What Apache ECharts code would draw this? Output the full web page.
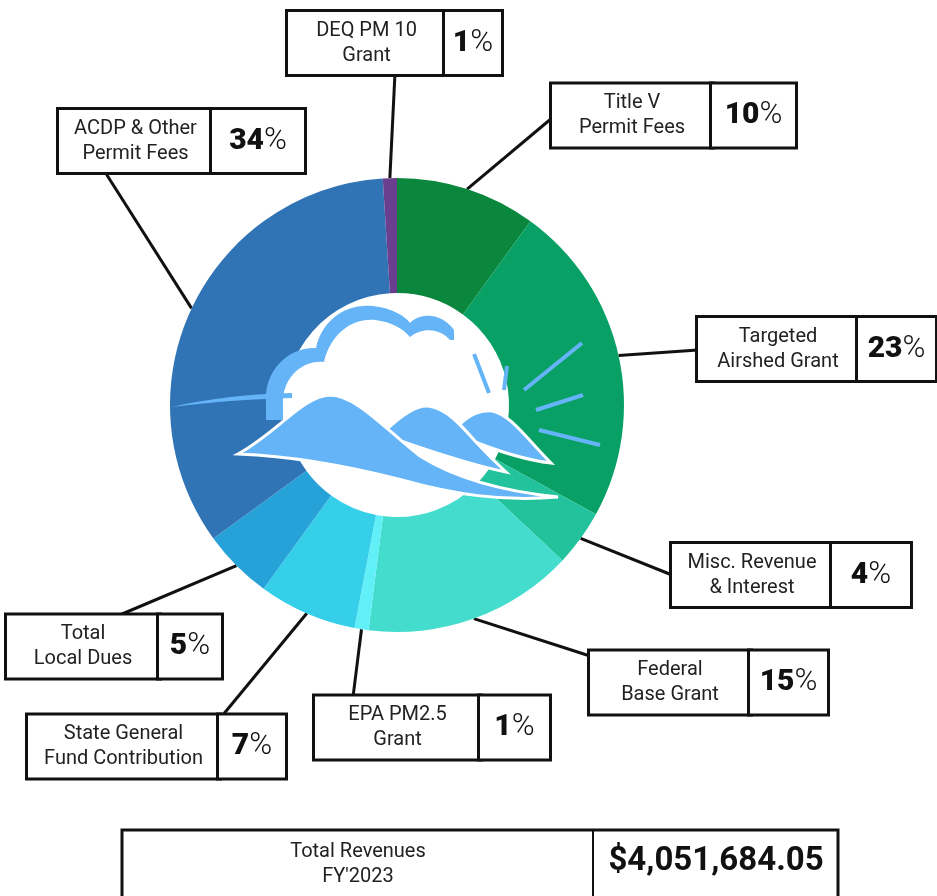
<!DOCTYPE html>
<html>
<head>
<meta charset="utf-8">
<script src="https://cdn.jsdelivr.net/npm/echarts@6/dist/echarts.min.js"></script>
<style>
  html, body { margin: 0; padding: 0; background: #fff; }
  #main { width: 937px; height: 896px; }
</style>
</head>
<body>
<div id="main"></div>
<script>
// revenue sources, clockwise from 12 o'clock
const categories = [
  'Title V\nPermit Fees',
  'Targeted\nAirshed Grant',
  'Misc. Revenue\n& Interest',
  'Federal\nBase Grant',
  'EPA PM2.5\nGrant',
  'State General\nFund Contribution',
  'Total\nLocal Dues',
  'ACDP & Other\nPermit Fees',
  'DEQ PM 10\nGrant'
];
const shares = [10, 23, 4, 15, 1, 7, 5, 34, 1];
const colors = ['#0a873c', '#08a064', '#22c29c', '#43dccd', '#62f0f8', '#36cfea', '#27a2d9', '#3174b6', '#6a3f8f'];

const totalTitle = "Total Revenues\nFY'2023";
const totalValue = '$4,051,684.05';

// label box layout: left, top, divider, right, bottom, line attach x, y  (px)
const boxes = [
  [552, 83, 712, 795, 148, 552, 118],
  [698, 318, 858, 935, 380, 698, 350],
  [672, 543, 832, 910, 607, 672, 575],
  [590, 652, 750, 827, 713, 590, 656],
  [315, 697, 480, 549, 758, 353, 697],
  [28, 716, 219, 285, 777, 222, 716],
  [7, 617, 159, 221, 676, 115, 617],
  [59, 110, 212, 304, 172, 105, 172],
  [288, 13, 445, 501, 73, 395, 73]
];

const CX = 397, CY = 405;
const pieData = categories.map((c, i) => ({ name: c, value: shares[i] }));

const chart = echarts.init(document.getElementById('main'));

const blue = '#64b4f7';
// logo in the hole of the donut
const logoPaths = [
  ['M266 402 C264 372 287 347 316 348 C322 320 346 303 373 306 C392 308 405 316 410 323 C421 312 442 313 454 330 L454 420 L266 420 Z', blue, null],
  ['M283 404 C282 380 300 360 324 362 C330 336 350 318 375 320 C392 322 402 328 410 337 C422 327 440 328 450 340 L472 340 L472 432 L283 432 Z', '#fff', null],
  ['M172 407 C210 398 250 394 292 393 L292 398 C250 399 210 402 172 407 Z', blue, null],
  ['M458 426 C470 414 480 410 492 411 C510 414 528 440 551 463 C525 460 495 450 470 440 Z', blue, '#fff'],
  ['M386 430 C404 413 417 405 428 406 C446 408 461 425 475 441 C486 453 495 462 506 472 C470 465 430 451 398 440 Z', blue, '#fff'],
  ['M238 454 C278 432 303 396 330 395 C356 395 386 430 420 456 C458 480 510 492 558 497 C502 502 452 494 402 480 C340 464 290 456 238 454 Z', blue, '#fff']
];
const logoRays = [
  [474, 354, 489, 393], [507, 366, 504, 390], [524, 390, 582, 343], [536, 410, 583, 395], [539, 430, 600, 445]
];

const totalBox = [
  { type: 'rect', shape: { x: 122, y: 830, width: 716, height: 80 }, style: { fill: '#fff', stroke: '#111', lineWidth: 3 } },
  { type: 'line', shape: { x1: 593, y1: 830, x2: 593, y2: 910 }, style: { stroke: '#111', lineWidth: 2 } },
  { type: 'text', x: 358, y: 864, style: { text: totalTitle, font: '20px Roboto, sans-serif', lineHeight: 25, fill: '#222', align: 'center', verticalAlign: 'middle' } },
  { type: 'text', x: 716, y: 862, style: { text: totalValue, font: 'bold 33px Roboto, sans-serif', fill: '#111', align: 'center', verticalAlign: 'middle' } }
];

chart.setOption({
  animation: false,
  backgroundColor: '#fff',
  color: colors,
  graphic: { elements: totalBox },
  series: [
    {
      // names + label lines
      type: 'pie',
      center: [CX, CY],
      radius: [112, 227],
      startAngle: 90,
      data: pieData,
      itemStyle: { borderWidth: 0 },
      label: {
        position: 'outside',
        formatter: '{b}',
        fontFamily: 'Roboto, sans-serif',
        fontSize: 20,
        lineHeight: 25,
        color: '#222',
        backgroundColor: '#fff',
        borderColor: '#111',
        borderWidth: 3,
        padding: [6, 0]
      },
      labelLine: { show: true, lineStyle: { color: '#111', width: 3 } },
      labelLayout: function (p) {
        const b = boxes[p.dataIndex];
        const start = p.labelLinePoints ? p.labelLinePoints[0] : [CX, CY];
        return {
          x: (b[0] + b[2]) / 2,
          y: (b[1] + b[4]) / 2,
          align: 'center',
          verticalAlign: 'middle',
          width: b[2] - b[0],
          labelLinePoints: [start, [b[5], b[6]]]
        };
      }
    },
    {
      // percentage cells
      type: 'pie',
      center: [CX, CY],
      radius: [112, 227],
      startAngle: 90,
      silent: true,
      data: pieData,
      itemStyle: { color: 'rgba(0,0,0,0)' },
      label: {
        position: 'outside',
        formatter: p => '{d|' + p.value + '}{pc|%}',
        backgroundColor: '#fff',
        borderColor: '#111',
        borderWidth: 3,
        padding: [6, 0],
        rich: {
          d: { fontFamily: 'Roboto, sans-serif', fontWeight: 900, fontSize: 30, lineHeight: 50, color: '#111' },
          pc: { fontFamily: 'Roboto, sans-serif', fontWeight: 300, fontSize: 31, lineHeight: 50, color: '#111' }
        }
      },
      labelLine: { show: false },
      labelLayout: function (p) {
        const b = boxes[p.dataIndex];
        return {
          x: (b[2] + b[3]) / 2,
          y: (b[1] + b[4]) / 2,
          align: 'center',
          verticalAlign: 'middle',
          width: b[3] - b[2]
        };
      }
    },
    {
      type: 'custom',
      coordinateSystem: 'none',
      silent: true,
      z: 3,
      data: [0],
      renderItem: function () {
        const children = logoPaths.map(d => ({
          type: 'path',
          shape: { pathData: d[0] },
          style: { fill: d[1], stroke: d[2], lineWidth: d[2] ? 3 : 0 }
        }));
        logoRays.forEach(r => children.push({
          type: 'line',
          shape: { x1: r[0], y1: r[1], x2: r[2], y2: r[3] },
          style: { stroke: blue, lineWidth: 4 }
        }));
        return { type: 'group', children: children };
      }
    }
  ]
});
</script>
</body>
</html>
